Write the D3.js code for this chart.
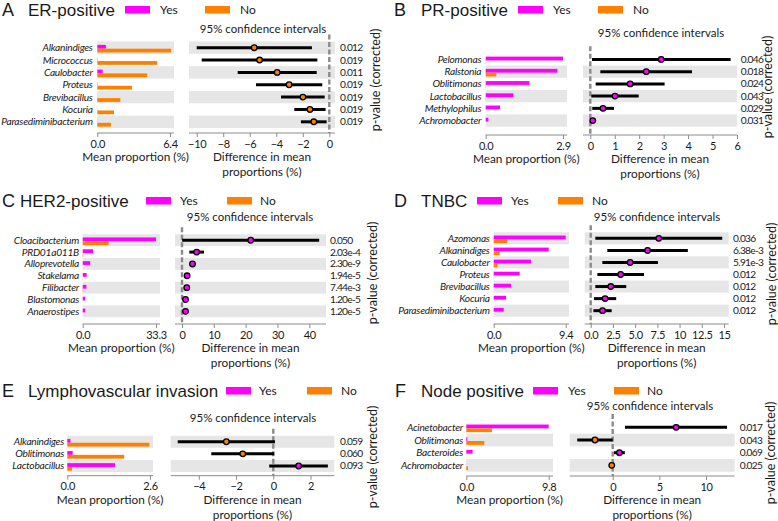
<!DOCTYPE html>
<html><head><meta charset="utf-8">
<script src="https://cdn.jsdelivr.net/npm/d3@7"></script>
<style>
body{margin:0;background:#fff}
svg text{font-family:Lato,"Open Sans",sans-serif;fill:#1a1a1a}
</style>
</head><body><svg id="c" width="778" height="521"></svg>
<script>
// ---------- DATA ----------
const legendLabels = ["Yes", "No"];
// A: ER-positive
const aTaxa = ["Alkanindiges","Micrococcus","Caulobacter","Proteus","Brevibacillus","Kocuria","Parasediminibacterium"];
const aYes  = [0.76, 0.02, 0.47, 0.02, 0.01, 0.01, 0.01];
const aNo   = [6.5, 5.28, 4.37, 3.05, 2.03, 1.47, 1.2];
const aDiff = [-5.66, -5.26, -3.93, -3.03, -1.99, -1.46, -1.17];
const aLo   = [-10.0, -9.62, -6.91, -5.53, -3.64, -2.64, -2.14];
const aHi   = [-1.31, -0.9, -0.95, -0.53, -0.35, -0.28, -0.2];
const aP    = ["0.012","0.019","0.011","0.019","0.019","0.019","0.019"];
const aBarTicks = [0, 6.4];
const aDiffTicks = [-10, -8, -6, -4, -2, 0];
const aDiffLabels = ["\u221210","\u22128","\u22126","\u22124","\u22122","0"];
// B: PR-positive
const bTaxa = ["Pelomonas","Ralstonia","Oblitimonas","Lactobacillus","Methylophilus","Achromobacter"];
const bYes  = [2.9, 2.69, 1.64, 1.04, 0.54, 0.1];
const bNo   = [0.01, 0.4, 0.01, 0.01, 0.0, 0.0];
const bDiff = [2.9, 2.29, 1.63, 1.01, 0.52, 0.1];
const bLo   = [0.07, 0.41, 0.22, 0.04, 0.08, 0.05];
const bHi   = [5.74, 4.16, 3.04, 1.98, 0.97, 0.15];
const bP    = ["0.046","0.018","0.024","0.043","0.029","0.031"];
const bBarTicks = [0, 2.9];
const bDiffTicks = [0, 1, 2, 3, 4, 5, 6];
const bDiffLabels = ["0","1","2","3","4","5","6"];
// C: HER2-positive
const cTaxa = ["Cloacibacterium","PRD01a011B","Alloprevotella","Stakelama","Filibacter","Blastomonas","Anaerostipes"];
const cYes  = [33.3, 4.7, 3.4, 1.8, 1.7, 1.1, 1.2];
const cNo   = [11.8, 0.3, 0.05, 0.05, 0.2, 0.02, 0.02];
const cDiff = [21.6, 4.6, 3.3, 1.6, 1.5, 1.1, 1.1];
const cLo   = [0.05, 2.3, 2.6, 1.1, 0.6, 0.7, 0.7];
const cHi   = [43.1, 6.9, 4.0, 2.1, 2.4, 1.5, 1.5];
const cP    = ["0.050","2.03e-4","2.30e-9","1.94e-5","7.44e-3","1.20e-5","1.20e-5"];
const cBarTicks = [0, 33.3];
const cDiffTicks = [0, 10, 20, 30, 40];
const cDiffLabels = ["0","10","20","30","40"];
// D: TNBC
const dTaxa = ["Azomonas","Alkanindiges","Caulobacter","Proteus","Brevibacillus","Kocuria","Parasediminibacterium"];
const dYes  = [9.4, 7.18, 4.87, 3.39, 2.26, 1.61, 1.31];
const dNo   = [1.74, 0.78, 0.48, 0.02, 0.01, 0.01, 0.01];
const dDiff = [7.66, 6.4, 4.44, 3.37, 2.26, 1.62, 1.33];
const dLo   = [0.52, 1.87, 1.31, 0.75, 0.52, 0.37, 0.3];
const dHi   = [14.8, 10.93, 7.57, 6.0, 4.0, 2.87, 2.36];
const dP    = ["0.036","6.38e-3","5.91e-3","0.012","0.012","0.012","0.012"];
const dBarTicks = [0, 9.4];
const dDiffTicks = [0, 2.5, 5, 7.5, 10, 12.5, 15];
const dDiffLabels = ["0.0","2.5","5.0","7.5","10","12.5","15"];
// E: Lymphovascular invasion
const eTaxa = ["Alkanindiges","Oblitimonas","Lactobacillus"];
const eYes  = [0.1, 0.17, 1.5];
const eNo   = [2.58, 1.79, 0.15];
const eDiff = [-2.52, -1.64, 1.36];
const eLo   = [-5.13, -3.33, -0.22];
const eHi   = [0.09, 0.05, 2.93];
const eP    = ["0.059","0.060","0.093"];
const eBarTicks = [0, 2.6];
const eDiffTicks = [-4, -2, 0, 2];
const eDiffLabels = ["\u22124","\u22122","0","2"];
// F: Node positive
const fTaxa = ["Acinetobacter","Oblitimonas","Bacteroides","Achromobacter"];
const fYes  = [9.8, 0.12, 0.75, 0.01];
const fNo   = [3.05, 2.14, 0.01, 0.2];
const fDiff = [6.8, -1.9, 0.72, -0.1];
const fLo   = [1.32, -3.8, 0.14, -0.14];
const fHi   = [12.25, 0.0, 1.3, -0.06];
const fP    = ["0.017","0.043","0.069","0.025"];
const fBarTicks = [0, 9.8];
const fDiffTicks = [0, 5, 10];
const fDiffLabels = ["0","5","10"];

// ---------- LAYOUT ----------
const panels = [
 {id:"A", title:"ER-positive", taxa:aTaxa, yes:aYes, no:aNo, diff:aDiff, lo:aLo, hi:aHi, p:aP,
  barTicks:aBarTicks, dTicks:aDiffTicks, dLabels:aDiffLabels, dDom:[-10,0],
  g:{letterX:2,titleX:28,titleY:15.5,yesX:125,noX:205,yesTX:160,noTX:240,ciX:263,ciY:33,top:41.5,bottom:128,
     bx0:97.3,bx1:170,bandR:174,labelX:92.7,axisY:133,dL:189,dR:335,dRange:[196.7,329.3],pX:340,rotX:380,rotY:80}},
 {id:"B", title:"PR-positive", taxa:bTaxa, yes:bYes, no:bNo, diff:bDiff, lo:bLo, hi:bHi, p:bP,
  barTicks:bBarTicks, dTicks:bDiffTicks, dLabels:bDiffLabels, dDom:[0,6],
  g:{letterX:394,titleX:421,titleY:15.5,yesX:518,noX:598,yesTX:553,noTX:633,ciX:661,ciY:37,top:53.3,bottom:126.7,
     bx0:485.7,bx1:563,bandR:567,labelX:481.3,axisY:135,dL:583,dR:737,dRange:[590.3,737],pX:740.7,rotX:772,rotY:87}},
 {id:"C", title:"HER2-positive", taxa:cTaxa, yes:cYes, no:cNo, diff:cDiff, lo:cLo, hi:cHi, p:cP,
  barTicks:cBarTicks, dTicks:cDiffTicks, dLabels:cDiffLabels, dDom:[0,40],
  g:{letterX:2,titleX:20,titleY:206.5,yesX:146,noX:227,yesTX:180,noTX:260,ciX:250,ciY:221,top:234.3,bottom:317.3,
     bx0:82.7,bx1:156,bandR:160,labelX:79,axisY:324,dL:175,dR:326,dRange:[182,309.3],pX:330,rotX:377,rotY:273}},
 {id:"D", title:"TNBC", taxa:dTaxa, yes:dYes, no:dNo, diff:dDiff, lo:dLo, hi:dHi, p:dP,
  barTicks:dBarTicks, dTicks:dDiffTicks, dLabels:dDiffLabels, dDom:[0,15],
  g:{letterX:394,titleX:421,titleY:206.5,yesX:477,noX:558,yesTX:511,noTX:592,ciX:657,ciY:221,top:232.3,bottom:316.7,
     bx0:493.7,bx1:565.7,bandR:569,labelX:489.7,axisY:324,dL:584.7,dR:728.7,dRange:[590.7,724],pX:733,rotX:775.5,rotY:274}},
 {id:"E", title:"Lymphovascular invasion", taxa:eTaxa, yes:eYes, no:eNo, diff:eDiff, lo:eLo, hi:eHi, p:eP,
  barTicks:eBarTicks, dTicks:eDiffTicks, dLabels:eDiffLabels, dDom:[-4,0],
  g:{letterX:2,titleX:28,titleY:396.5,yesX:226,noX:307,yesTX:259,noTX:341,ciX:253,ciY:421.5,top:435.7,bottom:472,
     bx0:67.3,bx1:150,bandR:153,labelX:64,axisY:475.7,dL:170.7,dR:334.3,dRange:[198.8,273.3],pX:340,rotX:377,rotY:457}},
 {id:"F", title:"Node positive", taxa:fTaxa, yes:fYes, no:fNo, diff:fDiff, lo:fLo, hi:fHi, p:fP,
  barTicks:fBarTicks, dTicks:fDiffTicks, dLabels:fDiffLabels, dDom:[0,10],
  g:{letterX:395,titleX:421,titleY:396.5,yesX:533,noX:614,yesTX:568,noTX:647,ciX:650,ciY:409.5,top:421,bottom:471.7,
     bx0:466.3,bx1:548.7,bandR:553,labelX:463,axisY:476,dL:569.7,dR:734.7,dRange:[612.7,706],pX:739.7,rotX:775,rotY:453}}
];

const MAG = "#ff00ff", ORA = "#ff8000", BAND = "#e6e6e6", AX = "#8c8c8c";
const svg = d3.select("#c");

panels.forEach(draw);

function draw(P){
  const g = P.g, n = P.taxa.length;
  const G = svg.append("g");
  const y = d3.scaleBand().domain(d3.range(n)).range([g.top, g.bottom]);
  const bw = y.bandwidth();
  const yc = i => y(i) + bw/2;
  const barMax = P.barTicks[P.barTicks.length-1];
  const xb = d3.scaleLinear().domain([0, barMax]).range([g.bx0, g.bx1]);
  const xd = d3.scaleLinear().domain(P.dDom).range(g.dRange);

  // heading
  G.append("text").attr("x", g.letterX).attr("y", g.titleY).text(P.id)
    .style("font-family","'Liberation Sans',Arial,sans-serif").style("font-size","18px");
  G.append("text").attr("x", g.titleX).attr("y", g.titleY).text(P.title)
    .style("font-family","'Liberation Sans',Arial,sans-serif").style("font-size","17px");
  // legend
  G.append("rect").attr("x", g.yesX).attr("y", g.titleY-9.5).attr("width",25).attr("height",7.5).attr("fill",MAG);
  G.append("rect").attr("x", g.noX).attr("y", g.titleY-9.5).attr("width",25).attr("height",7.5).attr("fill",ORA);
  G.append("text").attr("x", g.yesTX).attr("y", g.titleY-1.5).text(legendLabels[0]).style("font-size","12px");
  G.append("text").attr("x", g.noTX).attr("y", g.titleY-1.5).text(legendLabels[1]).style("font-size","12px");
  // CI title
  G.append("text").attr("x", g.ciX).attr("y", g.ciY).attr("text-anchor","middle")
    .text("95% confidence intervals").style("font-size","11.5px");

  // bands
  const bandIdx = d3.range(n).filter(i => (n-1-i) % 2 === 0);
  G.selectAll(null).data(bandIdx).join("rect")
    .attr("x", g.bx0).attr("y", i => y(i)).attr("width", g.bandR - g.bx0).attr("height", bw).attr("fill", BAND);
  G.selectAll(null).data(bandIdx).join("rect")
    .attr("x", g.dL).attr("y", i => y(i)).attr("width", g.dR - g.dL).attr("height", bw).attr("fill", BAND);

  // bars
  const bh = Math.min(3.8, bw*0.32);
  G.selectAll(null).data(P.yes).join("rect")
    .attr("x", xb(0)).attr("y", (d,i) => yc(i) - bh + 1).attr("width", d => xb(d) - xb(0)).attr("height", bh).attr("fill", MAG);
  G.selectAll(null).data(P.no).join("rect")
    .attr("x", xb(0)).attr("y", (d,i) => yc(i) + 1).attr("width", d => xb(d) - xb(0)).attr("height", bh).attr("fill", ORA);

  // category labels
  G.selectAll(null).data(P.taxa).join("text")
    .attr("x", g.labelX).attr("y", (d,i) => yc(i) + 3.5).attr("text-anchor","end")
    .style("font-style","italic").style("font-size","10.2px").style("letter-spacing","-0.25px").text(d => d);

  // zero line
  G.append("line").attr("x1", xd(0)).attr("x2", xd(0)).attr("y1", g.top - 7).attr("y2", g.axisY)
    .attr("stroke", "#8a8a8a").attr("stroke-width", 2.4).attr("stroke-dasharray", "5,2.5");

  // CIs
  G.selectAll(null).data(P.diff).join("line")
    .attr("x1", (d,i) => xd(P.lo[i])).attr("x2", (d,i) => xd(P.hi[i]))
    .attr("y1", (d,i) => yc(i)).attr("y2", (d,i) => yc(i))
    .attr("stroke", "#000").attr("stroke-width", 3);
  G.selectAll(null).data(P.diff).join("circle")
    .attr("cx", d => xd(d)).attr("cy", (d,i) => yc(i)).attr("r", 2.8)
    .attr("fill", d => d >= 0 ? MAG : ORA).attr("stroke", "#000").attr("stroke-width", 1.3);

  // p-values
  G.selectAll(null).data(P.p).join("text")
    .attr("x", g.pX).attr("y", (d,i) => yc(i) + 3.5).style("font-size","10.2px").style("letter-spacing","-0.7px").text(d => d);
  G.append("text").attr("transform", `translate(${g.rotX},${g.rotY}) rotate(-90)`)
    .attr("text-anchor","middle").style("font-size","12.5px").text("p-value (corrected)");

  // axes
  const axL = d3.axisBottom(xb).tickValues(P.barTicks).tickFormat(d3.format(".1f")).tickSize(4).tickPadding(3);
  const gl = G.append("g").attr("transform", `translate(0,${g.axisY})`).call(axL);
  const axR = d3.axisBottom(xd).tickValues(P.dTicks).tickFormat((d,i) => P.dLabels[i]).tickSize(4).tickPadding(3);
  const gr = G.append("g").attr("transform", `translate(0,${g.axisY})`).call(axR);
  [gl, gr].forEach(a => {
    a.select(".domain").remove();
    a.selectAll(".tick line").attr("stroke", AX);
    a.selectAll(".tick text").attr("fill", "#1a1a1a").style("font-family","Lato,sans-serif")
      .style("font-size","11px").style("letter-spacing","-0.3px");
  });
  G.append("line").attr("x1", g.bx0).attr("x2", g.bandR).attr("y1", g.axisY).attr("y2", g.axisY).attr("stroke", AX);
  G.append("line").attr("x1", g.dL).attr("x2", g.dR).attr("y1", g.axisY).attr("y2", g.axisY).attr("stroke", AX);

  // axis titles
  G.append("text").attr("x", (g.bx0 + g.bandR)/2).attr("y", g.axisY + 28).attr("text-anchor","middle")
    .style("font-size","11.8px").text("Mean proportion (%)");
  G.append("text").attr("x", (g.dL + g.dR)/2).attr("y", g.axisY + 28).attr("text-anchor","middle")
    .style("font-size","11.8px").text("Difference in mean");
  G.append("text").attr("x", (g.dL + g.dR)/2).attr("y", g.axisY + 42.8).attr("text-anchor","middle")
    .style("font-size","11.8px").text("proportions (%)");
}
</script>
</body></html>
